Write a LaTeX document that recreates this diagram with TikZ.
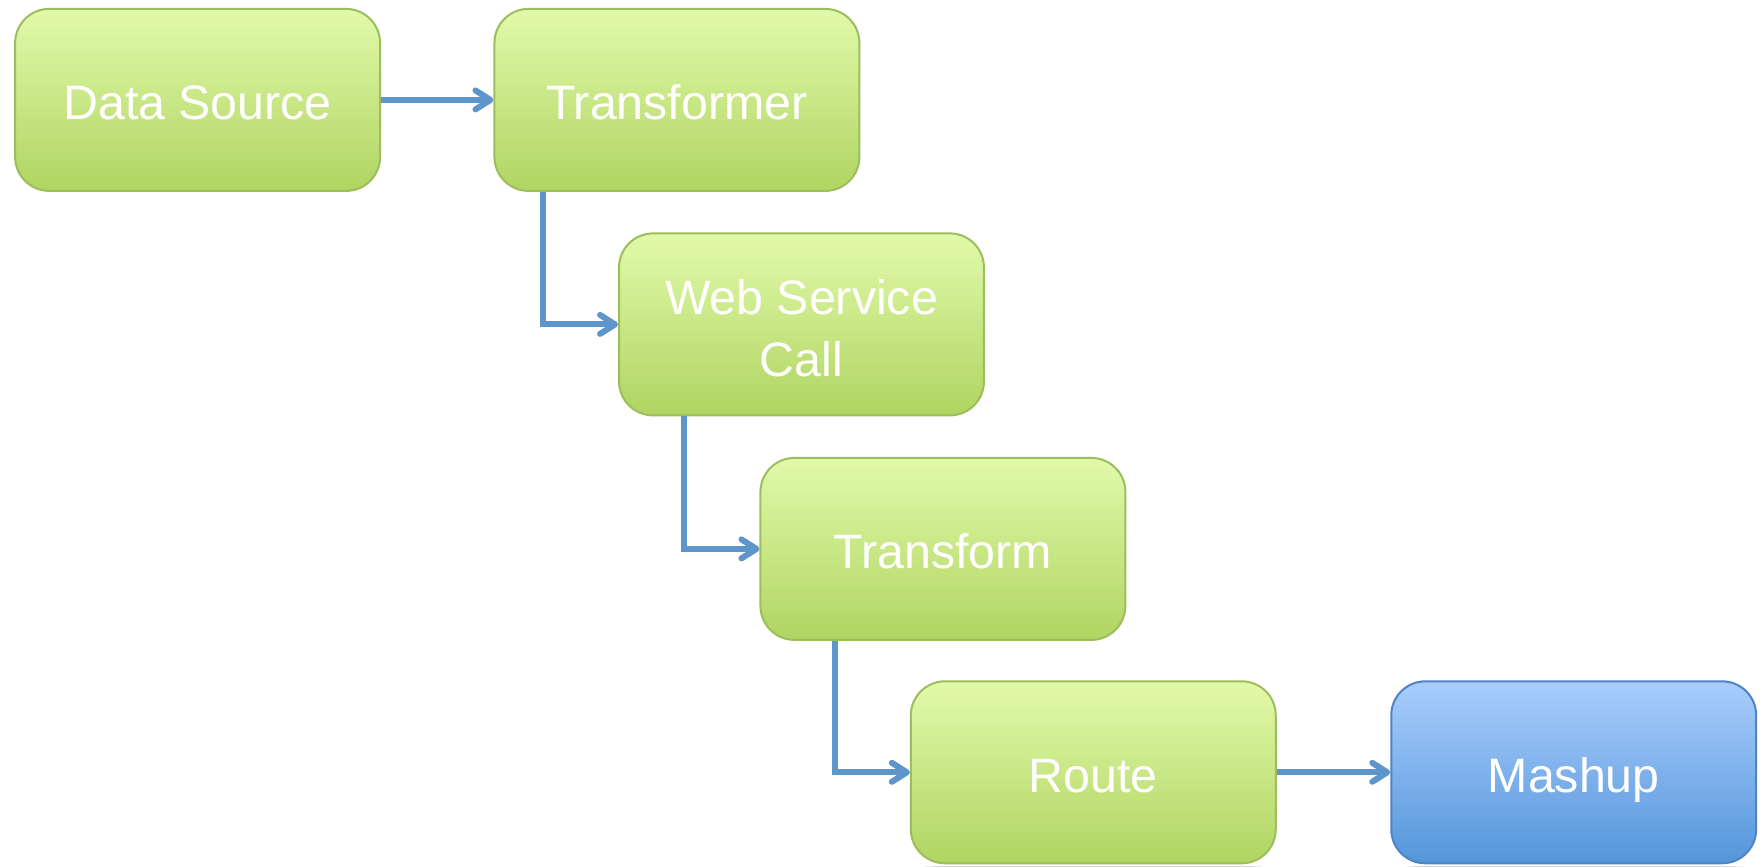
\documentclass[tikz,border=0pt]{standalone}
\usepackage{fontspec}
\setmainfont{Liberation Sans}
\usetikzlibrary{arrows.meta,calc,backgrounds}
\definecolor{gtop}{HTML}{E1FAAA}
\definecolor{gbot}{HTML}{B1D462}
\definecolor{gline}{HTML}{9CBE5C}
\definecolor{btop}{HTML}{A9CDFD}
\definecolor{bbot}{HTML}{5496DA}
\definecolor{bline}{HTML}{4F84C4}
\definecolor{conncol}{HTML}{5E95CB}
\tikzset{
  box/.style={rectangle, rounded corners=0.68cm, minimum width=7.3cm, minimum height=3.64cm,
    line width=0.04cm, text=white, align=center,
    font=\fontsize{27.5}{35}\selectfont, inner sep=0pt},
  oneline/.style={text height=22.7pt, text depth=0pt},
  greenbox/.style={box, draw=gline, top color=gtop, bottom color=gbot},
  bluebox/.style={box, draw=bline, top color=btop, bottom color=bbot},
  shadowbox/.style={fill=black, rounded corners=0.7cm},
  conn/.style={draw=conncol, line width=0.12cm,
    -{Straight Barb[length=0.3cm, width=0.38cm, line cap=round, line join=round]}}
}
\begin{document}
\begin{tikzpicture}[x=0.02cm, y=-0.02cm]
\fill[white] (0,0) rectangle (1760,866);
\useasboundingbox (0,0) rectangle (1760,866);
\node[greenbox, oneline] (ds)  at (197.6,99.9)  {Data Source};
\node[greenbox, oneline] (tf)  at (676.9,99.9)  {Transformer};
\node[greenbox] (wsc) at (801.5,324.4) {\rule{0pt}{24pt}Web Service\\Call};
\node[greenbox, oneline] (tr)  at (942.9,548.9) {Transform};
\node[greenbox, oneline] (rt)  at (1093.3,772.3) {Route};
\node[bluebox, oneline]  (mu)  at (1573.7,772.3) {Mashup};
\begin{scope}[on background layer]
  \foreach \n in {ds,tf,wsc,tr,rt,mu}{
    \fill[shadowbox, opacity=0.07] ($(\n.south west)+(-1,7)$) rectangle ($(\n.north east)+(3,5)$);
    \fill[shadowbox, opacity=0.10] ($(\n.south west)+(0,4)$) rectangle ($(\n.north east)+(2,3)$);
  }
\end{scope}
\draw[conn] (ds.east) -- (tf.west);
\draw[conn] ($(tf.south west)+(50,0)$) |- (wsc.west);
\draw[conn] ($(wsc.south west)+(66,0)$) |- (tr.west);
\draw[conn] ($(tr.south west)+(76,0)$) |- (rt.west);
\draw[conn] (rt.east) -- (mu.west);
\end{tikzpicture}
\end{document}
